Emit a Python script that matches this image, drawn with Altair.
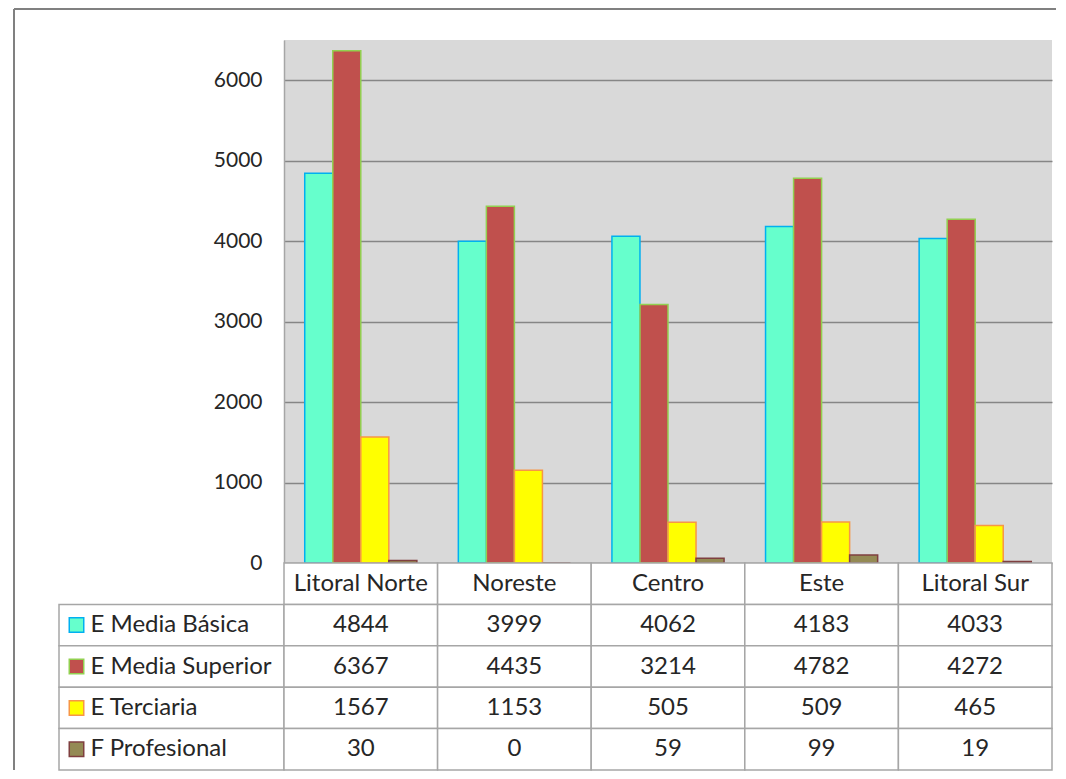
import altair as alt
import pandas as pd

# ---- data ----
categories = ["Litoral Norte", "Noreste", "Centro", "Este", "Litoral Sur"]
series = ["E Media Básica", "E Media Superior", "E Terciaria", "F Profesional"]
media_basica = [4844, 3999, 4062, 4183, 4033]
media_superior = [6367, 4435, 3214, 4782, 4272]
terciaria = [1567, 1153, 505, 509, 465]
profesional = [30, 0, 59, 99, 19]
y_ticks = [0, 1000, 2000, 3000, 4000, 5000, 6000]

values_by_series = [media_basica, media_superior, terciaria, profesional]

# ---- styles ----
fill_colors = ["#66ffcc", "#c0504d", "#ffff00", "#948a54"]
stroke_colors = ["#00b0f0", "#92d050", "#f79646", "#7f3f3f"]
FONT = "Lato"
FS_AXIS = 21
FS = 24
TXT = "#262626"
LINE = "#a6a6a6"
FRAME = "#808080"
HEADER = "Encabezado"
rows = [HEADER] + series
TABLE_H = 207

fill_scale = alt.Scale(domain=series, range=fill_colors)
stroke_scale = alt.Scale(domain=series, range=stroke_colors)

# ---- bar chart ----
bars_df = pd.DataFrame(
    [{"cat": c, "serie": s, "valor": vals[j]}
     for s, vals in zip(series, values_by_series)
     for j, c in enumerate(categories)]
)

bars = alt.Chart(bars_df).mark_bar(strokeWidth=1.5).encode(
    x=alt.X("cat:N", sort=categories, axis=None,
            scale=alt.Scale(paddingInner=0.27, paddingOuter=0.135)),
    xOffset=alt.XOffset("serie:N", sort=series,
                        scale=alt.Scale(paddingInner=0, paddingOuter=0)),
    y=alt.Y("valor:Q", scale=alt.Scale(domain=[0, 6500], nice=False),
            axis=alt.Axis(values=y_ticks, format="d", title=None, ticks=False, grid=True,
                          gridColor="#868686", gridWidth=1.5,
                          domainColor=LINE, domainWidth=1.5,
                          labelFont=FONT, labelFontSize=FS_AXIS, labelColor=TXT,
                          labelPadding=22)),
    fill=alt.Fill("serie:N", scale=fill_scale, legend=None),
    stroke=alt.Stroke("serie:N", scale=stroke_scale, legend=None),
).properties(width=768, height=523,
             view=alt.ViewBackground(fill="#d9d9d9", stroke=None))

# ---- frame (top-left spacer) ----
frame_df = pd.DataFrame({"k": [0]})
top_line = alt.Chart(frame_df).mark_rule(color=FRAME, strokeWidth=2).encode(
    x=alt.value(0), x2=alt.value(1042), y=alt.value(-31))
left_top = alt.Chart(frame_df).mark_rule(color=FRAME, strokeWidth=2).encode(
    x=alt.value(0), y=alt.value(-31), y2=alt.value(523))
spacer = alt.layer(top_line, left_top).properties(
    width=270, height=523, view=alt.ViewBackground(stroke=None))

# ---- data table ----
table_rows = []
for j, c in enumerate(categories):
    table_rows.append({"cat": c, "fila": HEADER, "texto": c})
    for s, vals in zip(series, values_by_series):
        table_rows.append({"cat": c, "fila": s, "texto": str(vals[j])})
grid_df = pd.DataFrame(table_rows)

xg = alt.X("cat:N", sort=categories, axis=None,
           scale=alt.Scale(paddingInner=0, paddingOuter=0))
yg = alt.Y("fila:N", axis=None,
           scale=alt.Scale(domain=rows, paddingInner=0, paddingOuter=0))
cells = alt.Chart(grid_df).mark_rect(fill="white", stroke=LINE, strokeWidth=1.5).encode(x=xg, y=yg)
cell_txt = alt.Chart(grid_df).mark_text(font=FONT, fontSize=FS, color=TXT).encode(
    x=xg, y=yg, text="texto:N")
grid = alt.layer(cells, cell_txt).properties(
    width=768, height=TABLE_H, view=alt.ViewBackground(stroke=None))

label_df = pd.DataFrame({"fila": series})
ylab = alt.Y("fila:N", axis=None,
             scale=alt.Scale(domain=rows, paddingInner=0, paddingOuter=0))
lab_cells = alt.Chart(label_df).mark_rect(fill="white", stroke=LINE, strokeWidth=1.5).encode(
    x=alt.value(45), x2=alt.value(270), y=ylab)
lab_sq = alt.Chart(label_df).mark_point(shape="square", filled=True, size=210,
                                        strokeWidth=1.5, opacity=1).encode(
    x=alt.value(62.5), y=ylab,
    fill=alt.Fill("fila:N", scale=fill_scale, legend=None),
    stroke=alt.Stroke("fila:N", scale=stroke_scale, legend=None))
lab_txt = alt.Chart(label_df).mark_text(font=FONT, fontSize=FS, color=TXT, align="left").encode(
    x=alt.value(76.5), y=ylab, text="fila:N")
left_bottom = alt.Chart(frame_df).mark_rule(color=FRAME, strokeWidth=2).encode(
    x=alt.value(0), y=alt.value(0), y2=alt.value(TABLE_H))
labels = alt.layer(lab_cells, lab_sq, lab_txt, left_bottom).properties(
    width=270, height=TABLE_H, view=alt.ViewBackground(stroke=None))

chart = alt.concat(spacer, bars, labels, grid, columns=2, spacing=0,
                   bounds="flush").properties(
    padding={"left": 5, "top": 0, "right": 0, "bottom": 0},
    background="white",
).configure_view(stroke=None)

chart.save("out.html", embed_options={"renderer": "svg", "actions": False})
